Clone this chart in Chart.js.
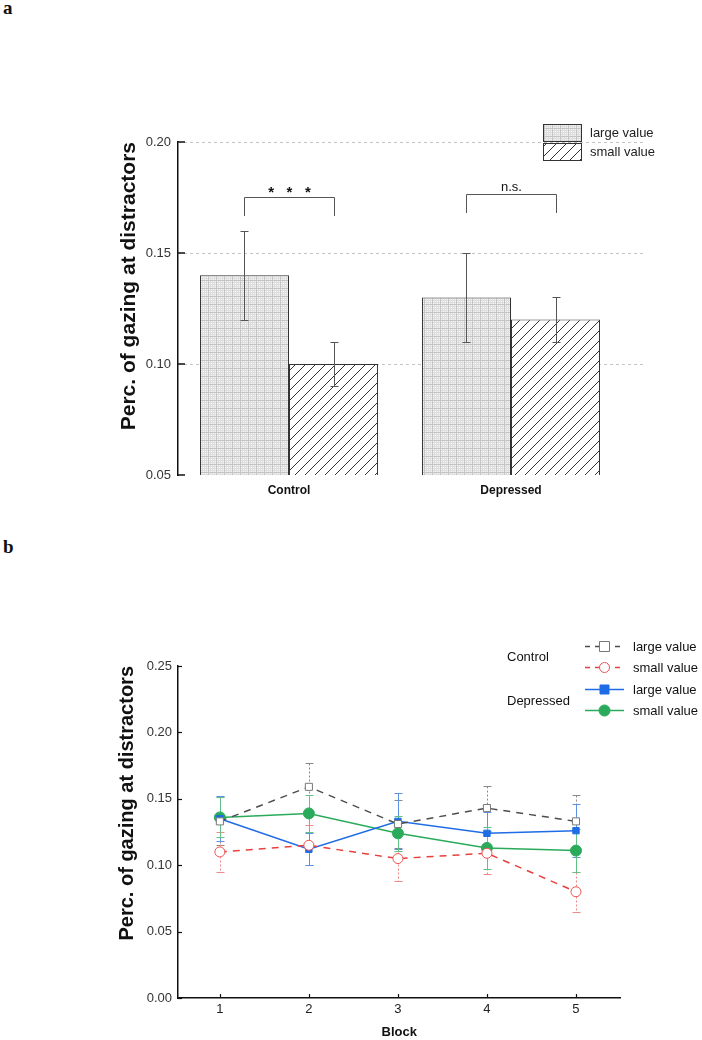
<!DOCTYPE html>
<html>
<head>
<meta charset="utf-8">
<script src="https://cdn.jsdelivr.net/npm/chart.js@4/dist/chart.umd.min.js"></script>
<style>
  html, body { margin: 0; padding: 0; background: #fff; }
  body { width: 702px; height: 1040px; position: relative; overflow: hidden; }
  .wrap { position: absolute; left: 0; width: 702px; }
  #wa { top: 0; height: 520px; }
  #wb { top: 540px; height: 500px; }
  .panel { position: absolute; left: 3px; line-height: 18px; font: bold 19px "Liberation Serif", "Times New Roman", serif; color: #111; }
</style>
</head>
<body>
<div class="panel" style="top:-3px">a</div>
<div class="panel" style="top:536px">b</div>
<div class="wrap" id="wa"><canvas id="chartA" width="702" height="520"></canvas></div>
<div class="wrap" id="wb"><canvas id="chartB" width="702" height="500"></canvas></div>
<script>
  // ---- panel a data ----
  const groups = ["Control", "Depressed"];
  const largeMean = [0.14, 0.13];
  const largeErr = [0.02, 0.02];
  const smallMean = [0.10, 0.12];
  const smallErr = [0.01, 0.01];
  const yTicksA = [0.05, 0.10, 0.15, 0.20];
  const sigText = ["*   *   *", "n.s."];
  const sigLevel = [0.1754, 0.1766];

  // ---- panel b data ----
  const blocks = [1, 2, 3, 4, 5];
  const ctrlLarge = [0.133, 0.159, 0.131, 0.143, 0.133];
  const ctrlLargeErr = [0.018, 0.018, 0.018, 0.017, 0.020];
  const ctrlSmall = [0.110, 0.115, 0.105, 0.109, 0.080];
  const ctrlSmallErr = [0.015, 0.015, 0.017, 0.016, 0.015];
  const depLarge = [0.135, 0.112, 0.133, 0.124, 0.126];
  const depLargeErr = [0.017, 0.012, 0.021, 0.016, 0.020];
  const depSmall = [0.136, 0.139, 0.124, 0.113, 0.111];
  const depSmallErr = [0.015, 0.014, 0.013, 0.016, 0.016];
  const yTicksB = [0, 0.05, 0.10, 0.15, 0.20, 0.25];

  const FONT = "'Liberation Sans', Arial, sans-serif";
  const fix2 = (v) => Number(v).toFixed(2);

  // fill patterns
  function dotPattern(ctx) {
    const c = document.createElement("canvas");
    c.width = 8; c.height = 8;
    const g = c.getContext("2d");
    g.fillStyle = "#f4f4f4"; g.fillRect(0, 0, 8, 8);
    g.fillStyle = "#dedede";
    for (let i = 0; i < 8; i += 2) { g.fillRect(i, 0, 1, 8); g.fillRect(0, i, 8, 1); }
    g.fillStyle = "#c4c4c4";
    g.fillRect(0, 0, 1, 8); g.fillRect(0, 0, 8, 1);
    return ctx.createPattern(c, "repeat");
  }
  function hatchPattern(ctx) {
    const n = 10;
    const c = document.createElement("canvas");
    c.width = n; c.height = n;
    const g = c.getContext("2d");
    g.fillStyle = "#fff"; g.fillRect(0, 0, n, n);
    g.strokeStyle = "#333"; g.lineWidth = 1;
    g.beginPath();
    g.moveTo(0, n); g.lineTo(n, 0);
    g.moveTo(-1, 1); g.lineTo(1, -1);
    g.moveTo(n - 1, n + 1); g.lineTo(n + 1, n - 1);
    g.stroke();
    return ctx.createPattern(c, "repeat");
  }

  // ================= chart a =================
  const ctxA = document.getElementById("chartA").getContext("2d");
  const dots = dotPattern(ctxA), hatch = hatchPattern(ctxA);

  const barDecor = {
    id: "barDecor",
    beforeDatasetsDraw(chart) {
      const { ctx, chartArea: a, scales: { y } } = chart;
      ctx.save();
      ctx.strokeStyle = "#c4c4c4"; ctx.lineWidth = 1; ctx.setLineDash([3, 3]);
      yTicksA.slice(1).forEach(v => {
        const py = Math.round(y.getPixelForValue(v)) + 0.5;
        ctx.beginPath(); ctx.moveTo(a.left, py); ctx.lineTo(645, py); ctx.stroke();
      });
      ctx.restore();
    },
    afterDatasetsDraw(chart) {
      const { ctx, scales: { y } } = chart;
      const m0 = chart.getDatasetMeta(0), m1 = chart.getDatasetMeta(1);
      ctx.save();
      // inner tick marks
      ctx.strokeStyle = "#111"; ctx.lineWidth = 1.5;
      yTicksA.forEach(v => {
        const py = Math.round(y.getPixelForValue(v));
        ctx.beginPath(); ctx.moveTo(chart.chartArea.left, py); ctx.lineTo(chart.chartArea.left + 7, py); ctx.stroke();
      });
      // error bars
      ctx.strokeStyle = "#555"; ctx.lineWidth = 1;
      [[m0, largeMean, largeErr], [m1, smallMean, smallErr]].forEach(([meta, mean, err]) => {
        meta.data.forEach((el, i) => {
          const x = Math.round(el.x) + 0.5;
          const t = Math.round(y.getPixelForValue(mean[i] + err[i])) + 0.5;
          const b = Math.round(y.getPixelForValue(mean[i] - err[i])) + 0.5;
          ctx.beginPath();
          ctx.moveTo(x, t); ctx.lineTo(x, b);
          ctx.moveTo(x - 4, t); ctx.lineTo(x + 4, t);
          ctx.moveTo(x - 4, b); ctx.lineTo(x + 4, b);
          ctx.stroke();
        });
      });
      // significance brackets
      groups.forEach((g, i) => {
        const x1 = Math.round(m0.data[i].x) + 0.5, x2 = Math.round(m1.data[i].x) + 0.5;
        const ly = Math.round(y.getPixelForValue(sigLevel[i])) + 0.5;
        const lb = Math.round(y.getPixelForValue(sigLevel[i] - 0.0088));
        ctx.strokeStyle = "#555"; ctx.lineWidth = 1;
        ctx.beginPath();
        ctx.moveTo(x1, lb); ctx.lineTo(x1, ly); ctx.lineTo(x2, ly); ctx.lineTo(x2, lb);
        ctx.stroke();
        ctx.fillStyle = "#111"; ctx.textAlign = "center"; ctx.textBaseline = "alphabetic";
        ctx.font = (i === 0 ? "bold 15px " : "13px ") + FONT;
        ctx.fillText(sigText[i], (x1 + x2) / 2, ly - (i === 0 ? 1 : 4));
      });
      // legend
      const items = [["large value", dots], ["small value", hatch]];
      items.forEach(([txt, fill], k) => {
        const top = 124 + k * 19;
        ctx.fillStyle = fill; ctx.fillRect(543, top, 38, 17);
        ctx.strokeStyle = "#333"; ctx.lineWidth = 1;
        ctx.strokeRect(543.5, top + 0.5, 38, 17);
        ctx.fillStyle = "#222"; ctx.font = "13px " + FONT;
        ctx.textAlign = "left"; ctx.textBaseline = "middle";
        ctx.fillText(txt, 590, top + 9);
      });
      ctx.restore();
    }
  };

  new Chart(ctxA, {
    type: "bar",
    data: {
      labels: groups,
      datasets: [
        { label: "large value", data: largeMean, backgroundColor: dots, borderColor: "#333", borderWidth: 1, borderSkipped: false, categoryPercentage: 0.802, barPercentage: 1 },
        { label: "small value", data: smallMean, backgroundColor: hatch, borderColor: "#333", borderWidth: 1, borderSkipped: false, categoryPercentage: 0.802, barPercentage: 1 }
      ]
    },
    options: {
      responsive: false,
      animation: false,
      events: [],
      layout: { padding: { left: 117, top: 142, right: 80, bottom: 0 } },
      plugins: { legend: { display: false }, tooltip: { enabled: false } },
      scales: {
        x: {
          grid: { display: false, drawTicks: false },
          border: { display: false },
          ticks: { color: "#111", padding: 8, font: { family: FONT, size: 12, weight: "bold" } },
          afterFit: (s) => { s.height = 45; }
        },
        y: {
          min: 0.05, max: 0.20,
          afterBuildTicks: (s) => { s.ticks = yTicksA.map(v => ({ value: v })); },
          grid: { display: false, drawTicks: false },
          border: { display: true, color: "#111", width: 1.5 },
          ticks: { color: "#333", padding: 7, font: { family: FONT, size: 13 }, callback: fix2 },
          title: { display: true, text: "Perc. of gazing at distractors", align: "end", color: "#111", padding: 0, font: { family: FONT, size: 21, weight: "bold" } },
          afterFit: (s) => { s.width = 61; }
        }
      }
    },
    plugins: [barDecor]
  });

  // ================= chart b =================
  const ctxB = document.getElementById("chartB").getContext("2d");
  const pts = (arr) => blocks.map((b, i) => ({ x: b, y: arr[i] }));

  const series = [
    { label: "large value", data: ctrlLarge, err: ctrlLargeErr, line: "#4d4d4d", errColor: "#8a8a8a", dash: [7, 6], errDash: [2, 2], style: "rect", fill: "#fff", edge: "#777", r: 5 },
    { label: "small value", data: ctrlSmall, err: ctrlSmallErr, line: "#e8403f", errColor: "#f08a8a", dash: [7, 6], errDash: [2, 2], style: "circle", fill: "#fff", edge: "#ee5252", r: 5 },
    { label: "large value", data: depLarge, err: depLargeErr, line: "#1e6ce6", errColor: "#5d93e6", dash: [], errDash: [], style: "rect", fill: "#1e6ce6", edge: "#1e6ce6", r: 4.5 },
    { label: "small value", data: depSmall, err: depSmallErr, line: "#2aab5c", errColor: "#62c286", dash: [], errDash: [], style: "circle", fill: "#2aab5c", edge: "#2aab5c", r: 5.5 }
  ];

  function marker(ctx, s, x, y) {
    ctx.save();
    ctx.setLineDash([]);
    ctx.fillStyle = s.fill; ctx.strokeStyle = s.edge; ctx.lineWidth = 1;
    ctx.beginPath();
    if (s.style === "rect") ctx.rect(x - s.r, y - s.r, s.r * 2, s.r * 2);
    else ctx.arc(x, y, s.r, 0, Math.PI * 2);
    ctx.fill(); ctx.stroke();
    ctx.restore();
  }

  const lineDecor = {
    id: "lineDecor",
    beforeDatasetsDraw(chart) {
      const { ctx, scales: { x, y } } = chart;
      ctx.save();
      ctx.lineWidth = 1;
      series.forEach(s => {
        ctx.strokeStyle = s.errColor; ctx.setLineDash(s.errDash);
        blocks.forEach((b, i) => {
          const px = Math.round(x.getPixelForValue(b)) + 0.5;
          const t = Math.round(y.getPixelForValue(s.data[i] + s.err[i])) + 0.5;
          const bt = Math.round(y.getPixelForValue(s.data[i] - s.err[i])) + 0.5;
          ctx.beginPath(); ctx.moveTo(px, t); ctx.lineTo(px, bt); ctx.stroke();
          ctx.setLineDash([]);
          ctx.beginPath();
          ctx.moveTo(px - 4, t); ctx.lineTo(px + 4, t);
          ctx.moveTo(px - 4, bt); ctx.lineTo(px + 4, bt);
          ctx.stroke();
          ctx.setLineDash(s.errDash);
        });
      });
      ctx.restore();
    },
    afterDraw(chart) {
      const { ctx, chartArea: a, scales: { x, y } } = chart;
      ctx.save();
      // inner tick marks
      ctx.strokeStyle = "#111"; ctx.lineWidth = 1.2;
      yTicksB.forEach(v => {
        const py = Math.round(y.getPixelForValue(v)) + 0.5;
        ctx.beginPath(); ctx.moveTo(a.left, py); ctx.lineTo(a.left + 4, py); ctx.stroke();
      });
      blocks.forEach(b => {
        const px = Math.round(x.getPixelForValue(b)) + 0.5;
        ctx.beginPath(); ctx.moveTo(px, a.bottom); ctx.lineTo(px, a.bottom - 4); ctx.stroke();
      });
      // legend
      ctx.fillStyle = "#111"; ctx.font = "13px " + FONT;
      ctx.textAlign = "left"; ctx.textBaseline = "middle";
      ctx.fillText("Control", 507, 117);
      ctx.fillText("Depressed", 507, 161);
      const rows = [106, 127, 149, 170];
      series.forEach((s, k) => {
        const ry = rows[k] + 0.5;
        ctx.strokeStyle = s.line; ctx.lineWidth = 1.5; ctx.setLineDash(s.dash.length ? [5, 5] : []);
        ctx.beginPath(); ctx.moveTo(585, ry); ctx.lineTo(624, ry); ctx.stroke();
        marker(ctx, s, 604.5, ry);
        ctx.fillStyle = "#111";
        ctx.fillText(s.label, 633, rows[k] + 1);
      });
      ctx.restore();
    }
  };

  new Chart(ctxB, {
    type: "line",
    data: {
      datasets: series.map(s => ({
        label: s.label,
        data: pts(s.data),
        borderColor: s.line,
        borderWidth: 1.5,
        borderDash: s.dash,
        tension: 0,
        fill: false,
        pointStyle: s.style,
        pointRadius: s.r,
        pointBackgroundColor: s.fill,
        pointBorderColor: s.edge,
        pointBorderWidth: 1
      }))
    },
    options: {
      responsive: false,
      animation: false,
      events: [],
      layout: { padding: { left: 115, top: 126, right: 81.5, bottom: 0 } },
      plugins: { legend: { display: false }, tooltip: { enabled: false } },
      scales: {
        x: {
          type: "linear",
          min: 0.53, max: 5.5,
          afterBuildTicks: (s) => { s.ticks = blocks.map(v => ({ value: v })); },
          grid: { display: false, drawTicks: false },
          border: { display: true, color: "#111", width: 1.5 },
          ticks: { color: "#222", padding: 4, font: { family: FONT, size: 13 } },
          title: { display: true, text: "Block", color: "#111", padding: 0, font: { family: FONT, size: 13, weight: "bold" } },
          afterFit: (s) => { s.height = 42; }
        },
        y: {
          min: 0, max: 0.25,
          afterBuildTicks: (s) => { s.ticks = yTicksB.map(v => ({ value: v })); },
          grid: { display: false, drawTicks: false },
          border: { display: true, color: "#111", width: 1.5 },
          ticks: { color: "#333", padding: 6, font: { family: FONT, size: 13 }, callback: fix2 },
          title: { display: true, text: "Perc. of gazing at distractors", align: "end", color: "#111", padding: 0, font: { family: FONT, size: 20, weight: "bold" } },
          afterFit: (s) => { s.width = 63; }
        }
      }
    },
    plugins: [lineDecor]
  });
</script>
</body>
</html>
